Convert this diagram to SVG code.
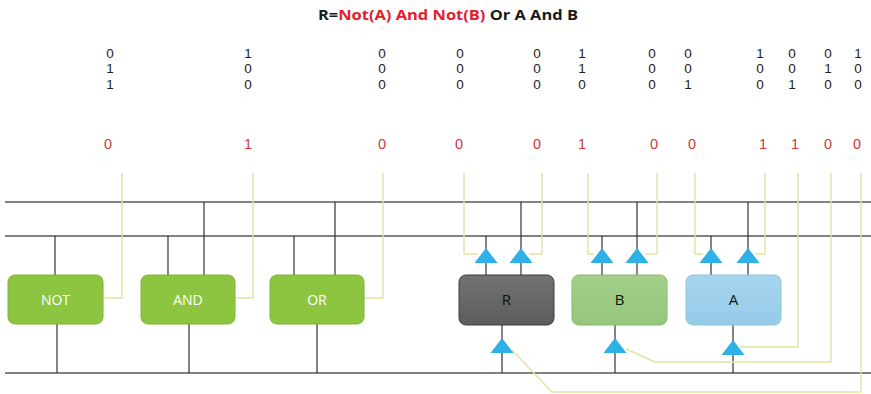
<svg xmlns="http://www.w3.org/2000/svg" width="871" height="394" viewBox="0 0 871 394">
<style>
  .title{font-family:"Open Sans","Liberation Sans",sans-serif;font-weight:bold;font-size:14px;fill:#1a1a1a}
  .red{fill:#e0202e}
  .num{font-family:"Liberation Sans",Arial,sans-serif;font-size:13.5px;fill:#222;text-anchor:middle}
  .rnum{font-family:"Liberation Sans",Arial,sans-serif;font-size:14.5px;fill:#d03838;text-anchor:middle}
  .bus{stroke:#5a5a5a;stroke-width:1.5;fill:none}
  .wire{stroke:#333;stroke-width:1.2;fill:none}
  .sig{stroke:#e2e2a2;stroke-width:1.4;fill:none}
  .tri{fill:#2fb0e6}
  .gate rect{fill:#8dc540;stroke:#7db336;stroke-width:1}
  .gate text{font-family:"Open Sans","Liberation Sans",sans-serif;font-size:14px;fill:#ffffff;text-anchor:middle}
  .reg text{font-family:"Open Sans","Liberation Sans",sans-serif;font-size:15px;fill:#111;text-anchor:middle}
</style>
<defs>
  <path id="tri" d="M0,0 L11.5,15 L-11.5,15 Z"/>
  <linearGradient id="gR" x1="0" y1="0" x2="0" y2="1"><stop offset="0" stop-color="#727272"/><stop offset="1" stop-color="#5c5c5c"/></linearGradient>
  <linearGradient id="gB" x1="0" y1="0" x2="0" y2="1"><stop offset="0" stop-color="#a3cf8a"/><stop offset="1" stop-color="#96c67b"/></linearGradient>
  <linearGradient id="gA" x1="0" y1="0" x2="0" y2="1"><stop offset="0" stop-color="#a6d5ee"/><stop offset="1" stop-color="#95cbe8"/></linearGradient>
</defs>
<rect width="871" height="394" fill="#ffffff"/>

<text class="title" x="318" y="20" textLength="260" lengthAdjust="spacingAndGlyphs">R=<tspan class="red">Not(A) And Not(B)</tspan> Or A And B</text>

<g id="bits">
  <g class="num">
    <text x="110" y="57.5">0</text><text x="110" y="73">1</text><text x="110" y="88.5">1</text>
    <text x="248" y="57.5">1</text><text x="248" y="73">0</text><text x="248" y="88.5">0</text>
    <text x="382" y="57.5">0</text><text x="382" y="73">0</text><text x="382" y="88.5">0</text>
    <text x="460" y="57.5">0</text><text x="460" y="73">0</text><text x="460" y="88.5">0</text>
    <text x="537" y="57.5">0</text><text x="537" y="73">0</text><text x="537" y="88.5">0</text>
    <text x="582" y="57.5">1</text><text x="582" y="73">1</text><text x="582" y="88.5">0</text>
    <text x="652" y="57.5">0</text><text x="652" y="73">0</text><text x="652" y="88.5">0</text>
    <text x="688" y="57.5">0</text><text x="688" y="73">0</text><text x="688" y="88.5">1</text>
    <text x="760" y="57.5">1</text><text x="760" y="73">0</text><text x="760" y="88.5">0</text>
    <text x="792" y="57.5">0</text><text x="792" y="73">0</text><text x="792" y="88.5">1</text>
    <text x="828" y="57.5">0</text><text x="828" y="73">1</text><text x="828" y="88.5">0</text>
    <text x="858" y="57.5">1</text><text x="858" y="73">0</text><text x="858" y="88.5">0</text>
  </g>
  <g class="rnum">
    <text x="108" y="149">0</text>
    <text x="248" y="149">1</text>
    <text x="382" y="149">0</text>
    <text x="459" y="149">0</text>
    <text x="537" y="149">0</text>
    <text x="582" y="149">1</text>
    <text x="654" y="149">0</text>
    <text x="692" y="149">0</text>
    <text x="763" y="149">1</text>
    <text x="795" y="149">1</text>
    <text x="828" y="149">0</text>
    <text x="857" y="149">0</text>
  </g>
</g>

<g id="connectors">
  <!-- buses -->
  <path class="bus" d="M5,202 H871 M5,236 H871 M5,373 H871"/>
  <!-- gate wires -->
  <path class="wire" d="M55,236 V275 M168,236 V275 M204,202 V275 M294,236 V275 M335,202 V275"/>
  <path class="wire" d="M57,324 V373 M189,324 V373 M317,324 V373"/>
  <!-- register wires -->
  <path class="wire" d="M486,236 V275 M521,202 V275 M602,236 V275 M637,202 V275 M711,236 V275 M748,202 V275"/>
  <path class="wire" d="M502,325 V373 M615,325 V373 M733,325 V373"/>
  <!-- signal lines -->
  <path class="sig" d="M103,298 H122 V173 M235,298 H253 V173 M364,298 H383 V173"/>
  <path class="sig" d="M464,173 V254 H478 M542,173 V254 H529"/>
  <path class="sig" d="M588,173 V254 H594 M657,173 V254 H645"/>
  <path class="sig" d="M695,173 V254 H703 M765,173 V254 H756"/>
  <path class="sig" d="M798,173 V347 H740"/>
  <path class="sig" d="M831,173 V362 H655 L626,349"/>
  <path class="sig" d="M861,173 V392 H552 L512,350"/>
  <!-- triangles -->
  <use href="#tri" class="tri" x="486" y="248"/>
  <use href="#tri" class="tri" x="521" y="248"/>
  <use href="#tri" class="tri" x="602" y="248"/>
  <use href="#tri" class="tri" x="637" y="248"/>
  <use href="#tri" class="tri" x="711" y="248"/>
  <use href="#tri" class="tri" x="748" y="248"/>
  <use href="#tri" class="tri" x="502" y="338"/>
  <use href="#tri" class="tri" x="615" y="338"/>
  <use href="#tri" class="tri" x="733" y="340"/>
</g>

<g id="NOT" class="gate">
  <rect x="8" y="275" width="95" height="49" rx="7"/>
  <text x="55.5" y="304.5">NOT</text>
</g>
<g id="AND" class="gate">
  <rect x="141" y="275" width="94" height="49" rx="7"/>
  <text x="188" y="304.5">AND</text>
</g>
<g id="OR" class="gate">
  <rect x="270" y="275" width="94" height="49" rx="7"/>
  <text x="317" y="304.5">OR</text>
</g>
<g id="R" class="reg">
  <rect x="459" y="275" width="95" height="50" rx="7" fill="url(#gR)" stroke="#3c3c3c" stroke-width="1"/>
  <text x="506.5" y="305">R</text>
</g>
<g id="B" class="reg">
  <rect x="572" y="275" width="95" height="50" rx="7" fill="url(#gB)" stroke="#86b86a" stroke-width="1"/>
  <text x="619.5" y="305">B</text>
</g>
<g id="A" class="reg">
  <rect x="686" y="275" width="95" height="50" rx="7" fill="url(#gA)" stroke="#8cc4e0" stroke-width="1"/>
  <text x="733.5" y="305">A</text>
</g>
</svg>
